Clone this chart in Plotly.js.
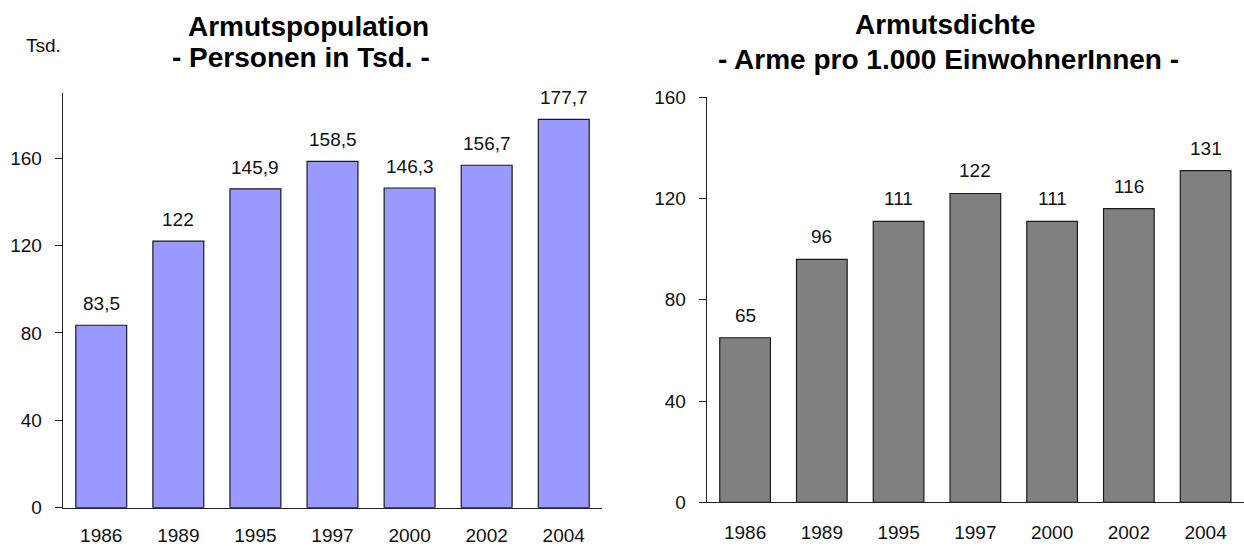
<!DOCTYPE html>
<html>
<head>
<meta charset="utf-8">
<script src="https://cdn.plot.ly/plotly-3.0.1.min.js"></script>
<style>
  html, body { margin: 0; padding: 0; background: #fff; }
  #chart { width: 1244px; height: 546px; }
</style>
</head>
<body>
<div id="chart"></div>
<script>
// Survey years (shared by both panels)
const years = ['1986', '1989', '1995', '1997', '2000', '2002', '2004'];

// Poverty population, persons in thousands
const population = [83.5, 122, 145.9, 158.5, 146.3, 156.7, 177.7];

// Poverty density, poor persons per 1,000 inhabitants
const density = [65, 96, 111, 122, 111, 116, 131];

const FONT = 'Liberation Sans, Arial, sans-serif';
const TXT = '#111';

// Slot index of each year on the evenly spaced x axes
const slots = years.map((_, i) => i);

function fmt(v) {
  return String(v).replace('.', ',');
}

const traces = [
  {
    type: 'bar', x: slots, y: population, xaxis: 'x', yaxis: 'y', width: 0.66,
    marker: { color: '#9999FF', line: { color: '#1a1a1a', width: 1.2 } },
    hoverinfo: 'skip'
  },
  {
    type: 'bar', x: slots, y: density, xaxis: 'x2', yaxis: 'y2', width: 0.66,
    marker: { color: '#808080', line: { color: '#1a1a1a', width: 1.2 } },
    hoverinfo: 'skip'
  }
];

const W = 1244, H = 546;
const px = v => v / W;
const py = v => 1 - v / H;

const axisX = {
  type: 'linear', range: [-0.5, years.length - 0.5],
  tickmode: 'array', tickvals: slots, ticktext: years,
  showgrid: false, zeroline: false,
  showline: true, linecolor: '#222', linewidth: 1,
  ticks: '', ticklabelstandoff: 13,
  tickfont: { family: FONT, size: 19, color: TXT }, fixedrange: true
};
const axisY = {
  type: 'linear',
  showgrid: false, zeroline: false, showline: true, linecolor: '#222', linewidth: 1,
  ticks: 'outside', ticklen: 7, tickcolor: '#222', tickwidth: 1,
  ticklabelstandoff: 9, tickmode: 'linear', tick0: 0, dtick: 40,
  tickfont: { family: FONT, size: 19, color: TXT }, fixedrange: true
};

const annotations = [];

// Bar value labels
slots.forEach(i => {
  annotations.push({
    x: i, y: population[i], xref: 'x', yref: 'y', text: fmt(population[i]),
    showarrow: false, yanchor: 'bottom', yshift: 9,
    font: { family: FONT, size: 19, color: TXT }
  });
  annotations.push({
    x: i, y: density[i], xref: 'x2', yref: 'y2', text: fmt(density[i]),
    showarrow: false, yanchor: 'bottom', yshift: 10,
    font: { family: FONT, size: 19, color: TXT }
  });
});

// Panel titles
const titleFont = { family: FONT, size: 28, color: '#000' };
[
  ['<b>Armutspopulation</b>', 308, 26],
  ['<b>- Personen in Tsd. -</b>', 301, 58],
  ['<b>Armutsdichte</b>', 945, 25],
  ['<b>- Arme pro 1.000 EinwohnerInnen -</b>', 948, 59]
].forEach(([t, cx, cy]) => {
  annotations.push({
    text: t, xref: 'paper', yref: 'paper', x: px(cx), y: py(cy),
    xanchor: 'center', yanchor: 'middle', showarrow: false, font: titleFont
  });
});

// Unit label of the left axis
annotations.push({
  text: 'Tsd.', xref: 'paper', yref: 'paper', x: px(43), y: py(45),
  xanchor: 'center', yanchor: 'middle', showarrow: false,
  font: { family: FONT, size: 19, color: TXT }
});

const layout = {
  width: W, height: H,
  margin: { l: 0, r: 0, t: 0, b: 0, pad: 0 },
  paper_bgcolor: '#fff', plot_bgcolor: '#fff',
  showlegend: false,
  xaxis: Object.assign({}, axisX, { domain: [px(62.7), px(602.3)], anchor: 'y', ticklabelstandoff: 10 }),
  yaxis: Object.assign({}, axisY, { domain: [py(507.7), py(92.5)], range: [0, 190], anchor: 'x' }),
  xaxis2: Object.assign({}, axisX, { domain: [px(706.7), 1], anchor: 'y2' }),
  yaxis2: Object.assign({}, axisY, { domain: [py(502.3), py(97.3)], range: [0, 160], anchor: 'x2' }),
  annotations: annotations
};

Plotly.newPlot('chart', traces, layout, { displayModeBar: false, staticPlot: true });
</script>
</body>
</html>
